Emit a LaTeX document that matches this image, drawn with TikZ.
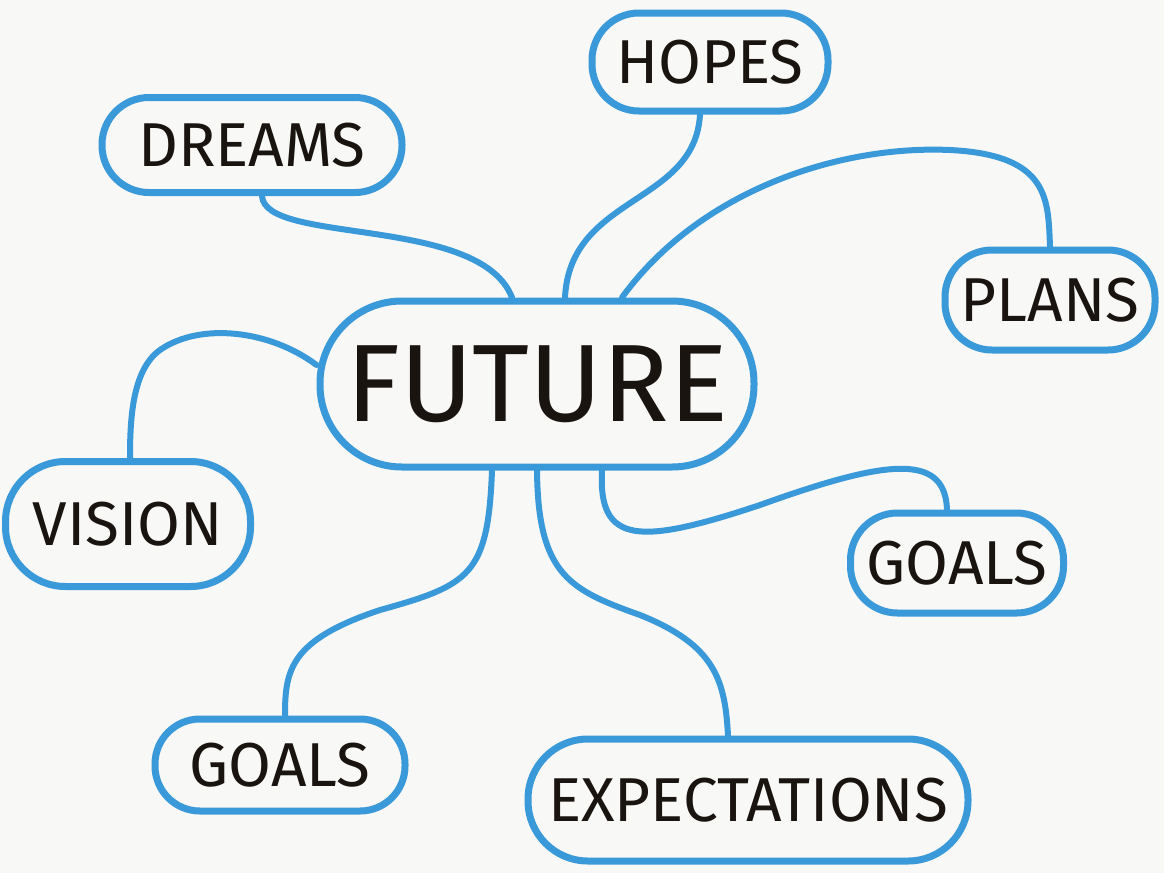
\documentclass[tikz,border=0pt]{standalone}
\usepackage{fontspec}
\setmainfont{Fira Sans}
\definecolor{marker}{HTML}{3A9AD9}
\definecolor{paper}{HTML}{F8F8F6}
\definecolor{ink}{HTML}{1A1410}
\tikzset{
  bubble/.style={draw=marker, line width=7pt, rounded corners=47pt, inner sep=0pt, text=ink,
    font=\fontsize{62}{70}\selectfont},
  link/.style={draw=marker, line width=6pt, line cap=round}
}
\begin{document}
\begin{tikzpicture}[x=1pt,y=-1pt]
\fill[paper] (0,0) rectangle (1164,873);
\useasboundingbox (0,0) rectangle (1164,873);
\node[bubble, minimum width=434pt, minimum height=166pt, rounded corners=82pt,
  font=\fontsize{110}{120}\selectfont] (future) at (537,384) {FUTURE};
\node[bubble, minimum width=236pt, minimum height=98pt] (hopes) at (710,62) {HOPES};
\node[bubble, minimum width=300pt, minimum height=95pt] (dreams) at (252,145) {DREAMS};
\node[bubble, minimum width=210pt, minimum height=100pt] (plans) at (1050,300) {PLANS};
\node[bubble, minimum width=245pt, minimum height=125pt, rounded corners=60pt] (vision) at (128,524) {VISION};
\node[bubble, minimum width=213pt, minimum height=100pt] (goalsR) at (957,563) {GOALS};
\node[bubble, minimum width=250pt, minimum height=92pt, rounded corners=45pt] (goalsL) at (280,765) {GOALS};
\node[bubble, minimum width=440pt, minimum height=122pt, rounded corners=60pt] (expect) at (748,800) {EXPECTATIONS};

\draw[link] ([xshift=10pt]dreams.south) .. controls (265,245) and (480,215) .. ([xshift=-25pt]future.north);
\draw[link] ([xshift=-10pt]hopes.south) .. controls (695,205) and (570,195) .. ([xshift=28pt]future.north);
\coordinate (plansTop) at (950,150);
\draw[link] ([xshift=85pt]future.north) .. controls (700,190) and (840,145) .. (plansTop)
  .. controls (1050,155) and (1048,200) .. (plans.north);
\coordinate (visionBend) at (160,350);
\draw[link] ([yshift=19pt]future.west) .. controls (270,330) and (200,322) .. (visionBend)
  .. controls (132,370) and (130,420) .. ([xshift=2pt]vision.north);
\coordinate (goalsRBend) at (760,505);
\draw[link] ([xshift=65pt]future.south) .. controls (598,545) and (640,545) .. (goalsRBend)
  .. controls (880,462) and (945,450) .. ([xshift=-10pt]goalsR.north);
\coordinate (goalsLBend) at (380,610);
\draw[link] ([xshift=-45pt]future.south) .. controls (488,575) and (470,585) .. (goalsLBend)
  .. controls (290,640) and (285,670) .. ([xshift=5pt]goalsL.north);
\coordinate (expectBend) at (640,615);
\draw[link] (future.south) .. controls (538,575) and (570,590) .. (expectBend)
  .. controls (715,645) and (725,680) .. ([xshift=-20pt]expect.north);
\end{tikzpicture}
\end{document}
